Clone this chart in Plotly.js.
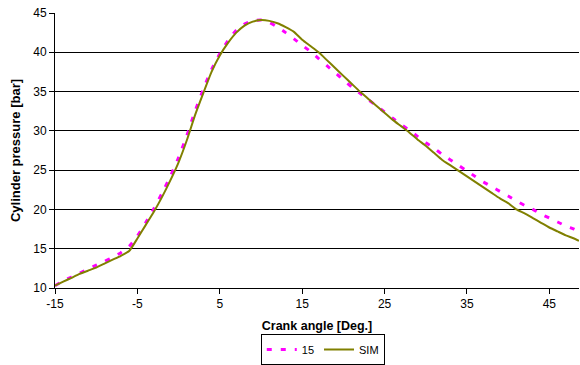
<!DOCTYPE html>
<html><head><meta charset="utf-8">
<script src="https://cdn.plot.ly/plotly-3.0.1.min.js"></script>
<style>html,body{margin:0;padding:0;background:#fff}#chart{width:580px;height:365px}</style>
</head><body><div id="chart"></div>
<script>
var crankAngle = [-15,-14,-13,-12,-11,-10,-9,-8,-7,-6,-5,-4,-3,-2,-1,0,1,2,3,4,5,6,7,8,9,10,11,12,13,14,15,16,17,18,19,20,21,22,23,24,25,26,27,28,29,30,31,32,33,34,35,36,37,38,39,40,41,42,43,44,45,46,47,48,48.6];
var series15 = [10.3,10.9,11.4,11.9,12.4,12.9,13.4,13.9,14.5,15.3,16.6,18.3,20.1,22.1,24.2,26.6,29.4,32.5,35.3,37.8,39.8,41.5,42.8,43.6,44.0,44.1,43.8,43.2,42.5,41.7,40.9,40.1,39.2,38.3,37.4,36.5,35.6,34.8,34.0,33.2,32.4,31.6,30.8,30.1,29.3,28.5,27.8,27.0,26.3,25.6,24.9,24.2,23.5,22.9,22.3,21.7,21.1,20.5,20.0,19.4,18.9,18.4,17.9,17.5,17.2];
var seriesSIM = [10.3,10.8,11.3,11.8,12.2,12.6,13.1,13.6,14.1,14.7,16.3,18.0,19.7,21.6,23.7,26.0,28.8,32.0,34.8,37.5,39.6,41.2,42.5,43.4,43.9,44.1,44.0,43.7,43.2,42.6,41.6,40.8,40.0,39.0,38.0,37.0,36.0,35.0,34.1,33.2,32.3,31.4,30.6,29.8,28.9,28.1,27.2,26.3,25.6,24.9,24.2,23.5,22.8,22.1,21.4,20.8,20.0,19.5,18.9,18.3,17.7,17.2,16.7,16.3,16.0];
var xTicks = [-15,-5,5,15,25,35,45];
var yTicks = [10,15,20,25,30,35,40,45];

var traces = [
  {x: crankAngle, y: series15, name: '15', mode: 'lines', line: {color: '#FF00FF', width: 3, dash: '5px,9px', shape: 'spline', smoothing: 0.5}},
  {x: crankAngle, y: seriesSIM, name: 'SIM', mode: 'lines', line: {color: '#808000', width: 2, shape: 'spline', smoothing: 0.5}}
];
var fam = 'Liberation Sans, Arial, sans-serif';
var fnt = {family: fam, size: 12, color: '#000'};
var layout = {
  width: 580, height: 365,
  margin: {l: 55, r: 1, t: 13, b: 77, autoexpand: false},
  paper_bgcolor: '#fff', plot_bgcolor: '#fff',
  font: fnt,
  showlegend: true,
  legend: {orientation: 'h', x: 0.511, xanchor: 'center', y: 0, yref: 'container', yanchor: 'bottom',
           bordercolor: '#000', borderwidth: 1, font: {family: fam, size: 11, color: '#000'},
           itemwidth: 30, tracegroupgap: 0},
  xaxis: {range: [-15, 48.6], tickvals: xTicks, ticktext: xTicks.map(String), showgrid: false, zeroline: false,
          showline: true, linecolor: '#000', linewidth: 1, ticks: 'outside', ticklen: 5, tickcolor: '#000',
          tickfont: fnt, title: {text: '<b>Crank angle [Deg.]</b>', font: {family: fam, size: 12.5, color: '#000'}, standoff: 10}},
  yaxis: {range: [10, 45], tickvals: yTicks, ticktext: yTicks.map(String), showgrid: true, gridcolor: '#000', gridwidth: 1,
          zeroline: false, showline: true, linecolor: '#000', linewidth: 1, ticks: 'outside', ticklen: 5, tickcolor: '#000',
          tickfont: fnt, title: {text: '<b>Cylinder pressure [bar]</b>', font: {family: fam, size: 13, color: '#000'}, standoff: 9}}
};
Plotly.newPlot('chart', traces, layout, {displayModeBar: false, staticPlot: true});
</script></body></html>
